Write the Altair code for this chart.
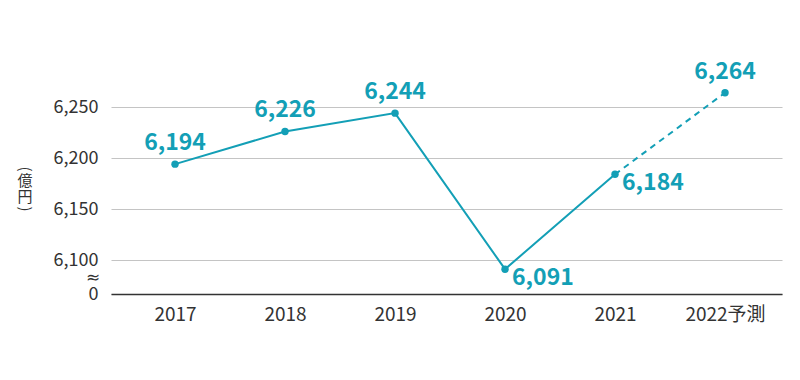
import altair as alt
import pandas as pd

years = [2017, 2018, 2019, 2020, 2021, 2022]
values = [6194, 6226, 6244, 6091, 6184, 6264]
label_pos = ["above", "above", "above", "below", "below", "above"]
solid_years = [2017, 2018, 2019, 2020, 2021]
dashed_years = [2021, 2022]
y_ticks = [6066.67, 6100, 6150, 6200, 6250]
y_title_chars = ["(", "億", "円", ")"]

TEAL = "#139fb6"
FONT = "Noto Sans CJK JP"

df = pd.DataFrame({"year": years, "value": values, "pos": label_pos})
df["label"] = df["value"].map(lambda v: f"{v:,}")
solid = df[df["year"].isin(solid_years)]
dashed = df[df["year"].isin(dashed_years)]

xs = alt.Scale(domain=[2016.418, 2022.518])
ys = alt.Scale(domain=[6066.67, 6330.4])

x_enc = alt.X("year:Q", scale=xs, axis=alt.Axis(
    values=years, format="d", ticks=False, grid=False,
    labelExpr="datum.value == 2022 ? '2022予測' : datum.label",
    labelFontSize=19, labelColor="#333", labelFont=FONT, labelPadding=11,
    domainColor="#333", domainWidth=1.6, title=None))
y_enc = alt.Y("value:Q", scale=ys, axis=alt.Axis(
    values=y_ticks, ticks=False, domain=False,
    labelExpr="datum.value < 6080 ? '0' : format(datum.value, ',')",
    labelFontSize=18, labelColor="#333", labelFont=FONT, labelPadding=13,
    gridColor="#c4c4c4", gridWidth=1.2, title=None))

base = alt.Chart(df)

line_solid = alt.Chart(solid).mark_line(color=TEAL, strokeWidth=2).encode(x=x_enc, y=y_enc)
line_dash = alt.Chart(dashed).mark_line(color=TEAL, strokeWidth=2, strokeDash=[6, 5]).encode(
    x=alt.X("year:Q", scale=xs), y=alt.Y("value:Q", scale=ys))
pts = base.mark_circle(color=TEAL, size=55, opacity=1).encode(
    x=alt.X("year:Q", scale=xs), y=alt.Y("value:Q", scale=ys))
lab_above = base.transform_filter("datum.pos == 'above'").mark_text(
    color=TEAL, fontSize=23, fontWeight="bold", font=FONT, dy=-21, align="center", baseline="middle"
).encode(x=alt.X("year:Q", scale=xs), y=alt.Y("value:Q", scale=ys), text="label:N")
lab_below = base.transform_filter("datum.pos == 'below'").mark_text(
    color=TEAL, fontSize=23, fontWeight="bold", font=FONT, dx=7, dy=9, align="left", baseline="middle"
).encode(x=alt.X("year:Q", scale=xs), y=alt.Y("value:Q", scale=ys), text="label:N")

approx = alt.Chart(pd.DataFrame({"t": ["≈"]})).mark_text(
    fontSize=17, color="#333", font="DejaVu Sans", align="center", baseline="middle"
).encode(x=alt.value(-18), y=alt.value(253), text="t:N")

one = pd.DataFrame({"k": [0]})
def title_char(ch, y, angle=0):
    return alt.Chart(one).mark_text(
        text=ch, fontSize=15, color="#333", font=FONT, align="center",
        baseline="middle", angle=angle
    ).encode(x=alt.value(-86), y=alt.value(y))

ytitle = [
    title_char(y_title_chars[0], 144, 90),
    title_char(y_title_chars[1], 156),
    title_char(y_title_chars[2], 172),
    title_char(y_title_chars[3], 184, 90),
]

chart = alt.layer(line_solid, line_dash, pts, lab_above, lab_below, approx, *ytitle).properties(
    width=671, height=269,
    autosize=alt.AutoSizeParams(type="none"),
    padding={"left": 103, "top": 17, "right": 10, "bottom": 50},
).configure_view(stroke=None)

chart.save("out.html", embed_options={"renderer": "svg", "actions": False})
